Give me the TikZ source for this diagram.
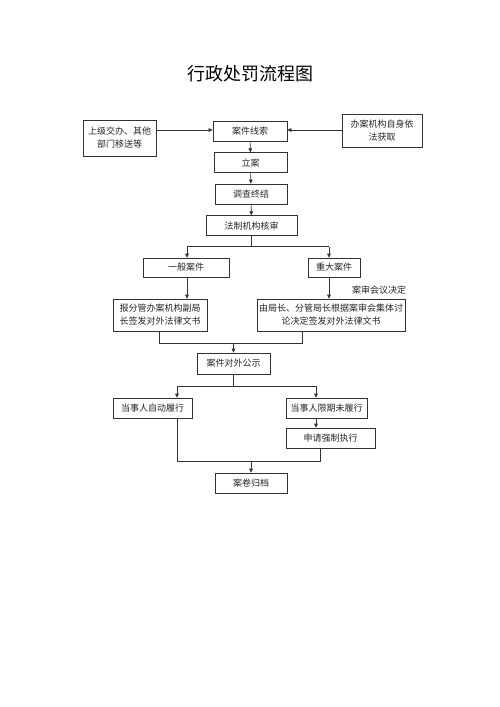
\documentclass[tikz,border=0pt]{standalone}
\usepackage{fontspec}
\newfontfamily\cjk{Noto Sans CJK SC}
\usetikzlibrary{arrows.meta,calc}
\tikzset{
  box/.style={draw=black!80,line width=0.6pt,rectangle,inner sep=1pt,align=center,font=\cjk\fontsize{9}{13}\selectfont,text=black!85},
  conn/.style={draw=black!80,line width=0.6pt},
  arr/.style={conn,-{Triangle[length=4pt,width=3.6pt]}},
  lbl/.style={font=\cjk\fontsize{9}{11}\selectfont,text=black!85,inner sep=0pt}
}
\begin{document}
\begin{tikzpicture}[x=1pt,y=-1pt]
\useasboundingbox[fill=white] (0,0) rectangle (500,707);
\node[font=\cjk\fontsize{18}{20}\selectfont,inner sep=0pt] (title) at (250,74) {行政处罚流程图};
% boxes
\node[box,minimum width=73pt,minimum height=36pt] (src1) at (119.5,138) {上级交办、其他\\部门移送等};
\node[box,minimum width=74pt,minimum height=20pt] (clue) at (250,131.5) {案件线索};
\node[box,minimum width=80pt,minimum height=33pt] (src2) at (382,130.5) {办案机构自身依\\法获取};
\node[box,minimum width=73pt,minimum height=20pt] (lian) at (250.5,162.7) {立案};
\node[box,minimum width=72pt,minimum height=20pt] (diaocha) at (251,194) {调查终结};
\node[box,minimum width=91pt,minimum height=20pt] (fazhi) at (251.5,225.7) {法制机构核审};
\node[box,minimum width=86pt,minimum height=19pt] (yiban) at (186,267.5) {一般案件};
\node[box,minimum width=52pt,minimum height=19pt] (zhongda) at (334,267.5) {重大案件};
\node[lbl] (anshen) at (379,290) {案审会议决定};
\node[box,minimum width=94pt,minimum height=32pt] (bao) at (160,315) {报分管办案机构副局\\长签发对外法律文书};
\node[box,minimum width=148pt,minimum height=32pt] (you) at (331,315) {由局长、分管局长根据案审会集体讨\\论决定签发对外法律文书};
\node[box,minimum width=73pt,minimum height=21pt] (gongshi) at (233.5,363.5) {案件对外公示};
\node[box,minimum width=79pt,minimum height=20pt] (zidong) at (152.5,408) {当事人自动履行};
\node[box,minimum width=81pt,minimum height=20pt] (weilv) at (326.5,408) {当事人限期未履行};
\node[box,minimum width=89pt,minimum height=20pt] (qiangzhi) at (330.5,438) {申请强制执行};
\node[box,minimum width=72pt,minimum height=20pt] (guidang) at (251,483) {案卷归档};
% junction coordinates
\coordinate (j1) at (251.5,246.7);
\coordinate (j1l) at (187,246.7);
\coordinate (j1r) at (329,246.7);
\coordinate (j2l) at (159,343);
\coordinate (j2r) at (302,343);
\coordinate (j2m) at (233.5,343);
\coordinate (j3) at (233.5,386);
\coordinate (j3l) at (177,386);
\coordinate (j3r) at (316,386);
\coordinate (j4l) at (177,461);
\coordinate (j4r) at (320,461);
\coordinate (j4m) at (251,461);
% connectors
\draw[arr] (src1.east |- 0,130) -- (clue.west |- 0,130);
\draw[arr] (src2.west |- 0,130) -- (clue.east |- 0,130);
\draw[arr] (clue) -- (lian);
\draw[arr] (lian) -- (diaocha);
\draw[arr] (diaocha) -- (fazhi);
\draw[conn] (fazhi.south) -- (j1);
\draw[conn] (j1l) -- (j1r);
\draw[arr] (j1l) -- (j1l |- yiban.north);
\draw[arr] (j1r) -- (j1r |- zhongda.north);
\draw[arr] (j1l |- yiban.south) -- (j1l |- bao.north);
\draw[arr] (j1r |- zhongda.south) -- (j1r |- you.north);
\draw[conn] (j2l |- bao.south) -- (j2l) -- (j2r) -- (j2r |- you.south);
\draw[arr] (j2m) -- (gongshi.north);
\draw[conn] (gongshi.south) -- (j3);
\draw[conn] (j3l) -- (j3r);
\draw[arr] (j3l) -- (j3l |- zidong.north);
\draw[arr] (j3r) -- (j3r |- weilv.north);
\draw[arr] (j3r |- weilv.south) -- (j3r |- qiangzhi.north);
\draw[conn] (j4l |- zidong.south) -- (j4l) -- (j4r) -- (j4r |- qiangzhi.south);
\draw[arr] (j4m) -- (guidang.north);
\end{tikzpicture}
\end{document}
